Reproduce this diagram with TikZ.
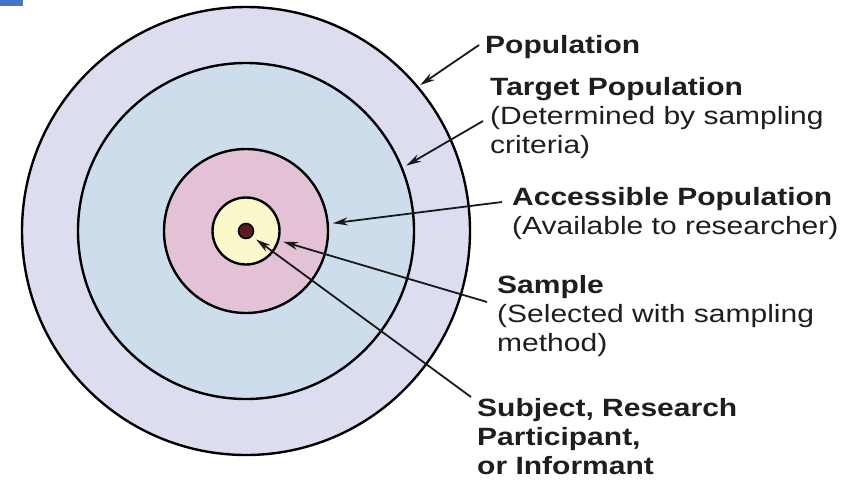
\documentclass[tikz,border=0pt]{standalone}
\usepackage{fontspec}
\setmainfont{Liberation Sans}
\newfontfamily\lblfont[FakeStretch=1.2]{Liberation Sans}
\usetikzlibrary{arrows.meta}
\definecolor{popC}{RGB}{221,221,240}
\definecolor{tgtC}{RGB}{206,221,236}
\definecolor{accC}{RGB}{228,194,213}
\definecolor{smpC}{RGB}{250,248,202}
\definecolor{subjC}{RGB}{92,26,34}
\definecolor{txtC}{RGB}{30,30,30}
\definecolor{cornerC}{RGB}{72,116,200}

\begin{document}
\begin{tikzpicture}[x=1pt, y=-1pt,
  ring/.style={circle, draw=black, line width=2.4pt, inner sep=0pt},
  ptr/.style={-{Stealth[length=15pt, width=8pt]}, draw=black!90, line width=1.8pt},
  lbl/.style={anchor=base west, inner sep=0pt, align=left, text=txtC,
              font=\lblfont\fontsize{25}{29}\selectfont},
]
\useasboundingbox (0,0) rectangle (848,483);
% centre of the target
\def\cx{246}\def\cy{231}

% ============ rings ============
\fill[cornerC] (0,0) rectangle (23,6);
\node[ring, fill=popC, minimum size=448pt] (pop) at (\cx,\cy) {};
\node[ring, fill=tgtC, minimum size=336pt] (tgt) at (\cx,\cy) {};
\node[ring, fill=accC, minimum size=164pt] (acc) at (\cx,\cy) {};
\node[ring, fill=smpC, minimum size=67pt] (smp) at (\cx,\cy) {};
\node[ring, fill=subjC, minimum size=15pt, line width=1.5pt] (subj) at (\cx,\cy) {};

% ============ labels (placed at the baseline of their last line) ============
\node[lbl] (lpop) at (485,53) {\textbf{Population}};
\node[lbl] (ltgt) at (490,153) {\textbf{Target Population}\\(Determined by sampling\\criteria)};
\node[lbl] (lacc) at (512,234) {\textbf{Accessible Population}\\(Available to researcher)};
\node[lbl] (lsmp) at (497,351) {\textbf{Sample}\\(Selected with sampling\\method)};
\node[lbl] (lsubj) at (477,474) {\textbf{Subject, Research}\\\textbf{Participant,}\\\textbf{or Informant}};

% ============ pointers ============
\coordinate (spop) at (479,45);
\coordinate (stgt) at (483,121);
\coordinate (sacc) at (502,202);
\coordinate (ssmp) at (487,302);
\coordinate (ssubj) at (471,397);
\draw[ptr, shorten >=2pt] (spop) -- (pop.40);
\draw[ptr, shorten >=4pt] (stgt) -- (tgt.22.7);
\draw[ptr, shorten >=4pt] (sacc) -- (acc.5.9);
\draw[ptr, shorten >=4pt] (ssmp) -- (smp.-16.6);
\draw[ptr, shorten >=5pt] (ssubj) -- (subj.-42);

\end{tikzpicture}
\end{document}
